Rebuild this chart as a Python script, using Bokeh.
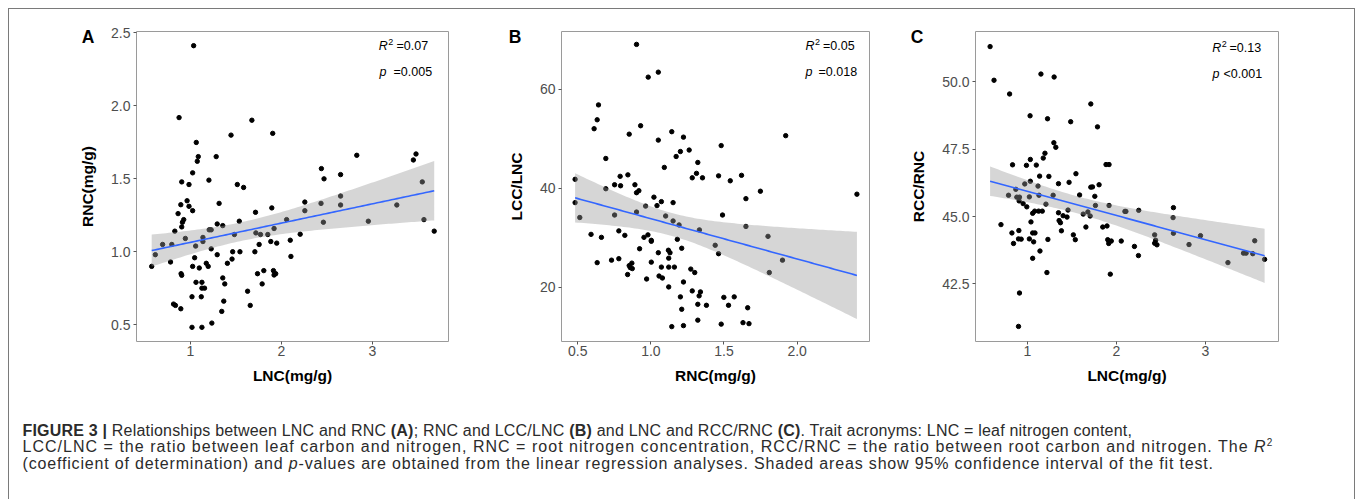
import numpy as np
from bokeh.plotting import figure
from bokeh.models import Label, FixedTicker, NumeralTickFormatter, Range1d, Div, ColumnDataSource, Spacer
from bokeh.layouts import row, column
from bokeh.embed import file_html
from bokeh.resources import INLINE

# ---------------- data ----------------
# Panel A: LNC (x) vs RNC (y)
a_lnc = [1.036, 0.876, 1.676, 1.447, 1.905, 1.065, 1.087, 1.076, 1.284, 2.829, 3.48, 3.451, 2.44, 2.651, 2.469,
         1.025, 0.905, 0.985, 1.204, 1.516, 1.585, 3.549, 0.964, 0.895, 0.985, 1.025, 0.865, 1.316, 1.716, 1.895,
         2.258, 2.436, 2.651, 2.651, 3.269, 2.258, 0.927, 0.913, 0.905, 0.829, 0.945, 0.695, 0.796, 0.615, 0.575,
         0.782, 1.058, 1.138, 1.138, 1.207, 1.229, 1.295, 1.356, 1.229, 1.295, 1.484, 1.538, 1.72, 1.771, 1.851,
         1.92, 2.058, 1.884, 1.949, 2.098, 2.207, 2.462, 2.956, 3.567, 3.68, 2.105, 1.756, 1.709, 1.545, 1.465,
         1.458, 1.407, 1.047, 1.025, 1.098, 1.175, 1.196, 0.898, 0.905, 1.062, 1.127, 1.127, 1.156, 1.018, 1.12,
         0.815, 0.836, 0.895, 1.018, 1.127, 1.236, 1.345, 1.367, 1.356, 1.378, 1.629, 1.658, 1.738, 1.807, 1.789,
         1.913, 1.92, 1.938]
a_rnc = [2.41, 1.918, 1.90, 1.798, 1.81, 1.748, 1.651, 1.619, 1.651, 1.66, 1.669, 1.628, 1.569, 1.528, 1.499,
         1.54, 1.478, 1.46, 1.49, 1.46, 1.44, 1.478, 1.349, 1.322, 1.311, 1.281, 1.261, 1.331, 1.27, 1.30,
         1.34, 1.331, 1.32, 1.381, 1.32, 1.281, 1.22, 1.202, 1.17, 1.141, 1.091, 1.05, 1.05, 0.98, 0.90,
         0.93, 1.039, 1.098, 1.07, 1.15, 1.15, 1.19, 1.179, 1.02, 0.98, 1.118, 1.209, 1.129, 1.118, 1.118,
         1.159, 1.22, 1.07, 1.059, 1.079, 1.12, 1.202, 1.209, 1.22, 1.141, 0.968, 1.05, 1.0, 1.0, 1.0,
         0.95, 0.921, 0.959, 0.90, 0.889, 0.921, 0.90, 0.85, 0.839, 0.791, 0.791, 0.751, 0.751, 0.692, 0.692,
         0.642, 0.633, 0.61, 0.483, 0.483, 0.512, 0.592, 0.662, 0.821, 0.78, 0.73, 0.633, 0.85, 0.871, 0.78,
         0.871, 0.841, 0.85]

# Panel B: RNC (x) vs LCC/LNC (y)
b_rnc = [0.902, 0.982, 1.051, 0.642, 0.633, 0.612, 0.852, 0.93, 1.051, 1.143, 1.223, 1.481, 1.922, 0.692, 1.173,
         1.202, 1.262, 1.092, 1.321, 1.312, 1.283, 1.353, 1.463, 1.543, 1.62, 1.749, 1.65, 2.409, 0.482, 0.482,
         0.514, 0.692, 0.752, 0.79, 0.793, 0.843, 0.891, 0.902, 0.918, 0.964, 0.902, 0.752, 1.021, 1.042, 1.072,
         1.152, 1.101, 1.152, 1.193, 1.332, 1.49, 1.65, 1.801, 1.90, 1.81, 0.591, 0.662, 0.781, 0.822, 0.953,
         0.98, 1.003, 1.003, 0.923, 1.051, 1.12, 1.131, 1.181, 1.211, 1.122, 1.072, 1.122, 1.161, 1.003, 0.971,
         1.056, 1.079, 1.122, 1.223, 1.273, 1.30, 1.44, 1.463, 0.633, 0.731, 0.781, 0.859, 0.87, 0.873, 0.852,
         0.841, 1.202, 1.283, 1.339, 1.33, 1.211, 1.321, 1.38, 1.499, 1.57, 1.531, 1.662, 1.143, 1.223, 1.321,
         1.481, 1.63, 1.671]
b_lcc_lnc = [69.0, 62.4, 63.4, 56.8, 53.8, 52.0, 50.9, 52.6, 49.7, 51.4, 50.3, 48.6, 50.6, 46.0, 46.4,
             47.4, 47.7, 44.2, 45.2, 43.0, 42.1, 42.1, 42.5, 41.5, 42.6, 39.4, 37.9, 38.8, 41.8, 37.1,
             34.1, 39.9, 40.7, 42.4, 40.5, 42.7, 40.7, 39.1, 39.5, 36.4, 35.2, 34.6, 38.2, 36.5, 37.3,
             37.1, 34.4, 33.4, 32.6, 31.6, 34.6, 32.3, 30.3, 25.5, 23.0, 30.7, 30.1, 31.4, 30.5, 30.1,
             30.6, 29.5, 29.3, 27.8, 27.0, 27.5, 27.0, 29.7, 27.9, 25.9, 24.1, 24.1, 24.1, 25.1, 21.7,
             22.3, 21.9, 20.1, 21.1, 23.7, 23.0, 28.5, 26.8, 25.0, 25.5, 25.8, 24.0, 24.9, 23.8, 24.4,
             22.6, 18.1, 19.3, 19.1, 18.3, 15.6, 16.6, 16.4, 18.0, 18.1, 16.4, 15.9, 12.1, 12.3, 13.4,
             12.6, 12.9, 12.7]

# Panel C: LNC (x) vs RCC/RNC (y)
c_lnc = [0.581, 0.625, 0.80, 1.152, 1.30, 1.712, 1.03, 1.226, 1.486, 1.787, 1.297, 1.319, 1.197, 1.178, 1.033,
         0.833, 0.989, 1.10, 1.883, 1.917, 1.137, 1.241, 1.545, 1.349, 1.468, 0.97, 1.033, 1.805, 1.712, 1.731,
         0.87, 1.119, 0.788, 0.881, 0.911, 1.022, 1.13, 1.289, 1.586, 1.757, 0.907, 0.952, 0.993, 1.208, 1.764,
         1.917, 1.059, 1.082, 1.126, 1.167, 1.456, 1.349, 1.401, 1.445, 1.627, 1.679, 1.705, 2.095, 2.106, 2.25,
         2.64, 2.636, 1.04, 1.356, 1.371, 0.703, 1.657, 1.846, 1.894, 0.826, 0.904, 1.059, 1.085, 1.516, 1.382,
         1.538, 0.90, 0.93, 1.022, 1.23, 1.07, 0.844, 1.902, 1.913, 1.942, 2.054, 2.202, 2.247, 2.429, 2.44,
         2.429, 2.455, 2.64, 2.815, 2.944, 1.141, 1.059, 1.219, 1.931, 0.911, 0.90, 3.252, 3.427, 3.456, 3.531,
         3.553, 3.664]
c_rcc_rnc = [51.31, 50.06, 49.55, 50.29, 50.18, 49.18, 48.74, 48.63, 48.52, 48.33, 47.74, 47.57, 47.35, 47.17, 47.12,
             46.92, 46.90, 46.91, 46.93, 46.93, 46.50, 46.49, 46.59, 46.22, 46.27, 46.21, 46.31, 46.18, 46.09, 46.10,
             46.01, 46.13, 45.79, 45.72, 45.72, 45.73, 45.79, 45.79, 45.80, 45.75, 45.58, 45.48, 45.36, 45.46, 45.41,
             45.41, 45.12, 45.20, 45.20, 45.20, 45.24, 45.14, 45.03, 44.98, 45.09, 45.17, 45.02, 45.19, 45.19, 45.23,
             45.33, 44.96, 44.80, 44.85, 44.77, 44.70, 44.61, 44.61, 44.65, 44.39, 44.48, 44.39, 44.39, 44.32, 44.47,
             44.14, 44.17, 44.16, 44.17, 44.15, 44.06, 44.00, 44.14, 44.00, 44.09, 44.09, 43.89, 43.55, 44.32, 44.12,
             44.01, 43.95, 44.38, 43.96, 44.29, 43.72, 43.45, 42.92, 42.86, 42.16, 40.92, 43.29, 43.64, 43.64, 43.62,
             44.10, 43.41]

a_stats = ("0.07", "=0.005")
b_stats = ("0.05", "=0.018")
c_stats = ("0.13", "<0.001")
panel_letters = ["A", "B", "C"]

a_xticks = [1, 2, 3]
a_yticks = [0.5, 1.0, 1.5, 2.0, 2.5]
b_xticks = [0.5, 1.0, 1.5, 2.0, 2.5]
b_yticks = [20, 40, 60]
c_xticks = [1, 2, 3]
c_yticks = [42.5, 45.0, 47.5, 50.0]

T_CRIT = 1.982  # two-sided 95% t quantile, df ~ 108

FONT = "Liberation Sans"


def fit_band(x, y, n_grid=100):
    x = np.asarray(x, float)
    y = np.asarray(y, float)
    n = len(x)
    b, a = np.polyfit(x, y, 1)
    resid = y - (a + b * x)
    s = np.sqrt(np.sum(resid ** 2) / (n - 2))
    xbar = x.mean()
    sxx = np.sum((x - xbar) ** 2)
    gx = np.linspace(x.min(), x.max(), n_grid)
    gy = a + b * gx
    se = s * np.sqrt(1.0 / n + (gx - xbar) ** 2 / sxx)
    return gx, gy, gy - T_CRIT * se, gy + T_CRIT * se


def make_panel(x, y, xr, yr, xticks, yticks, xfmt, yfmt, xlabel, ylabel,
               bl, br, fw, stats, ann):
    p = figure(frame_width=fw, frame_height=310, min_border_left=bl, min_border_right=br,
               min_border_top=20, min_border_bottom=59,
               x_range=Range1d(*xr), y_range=Range1d(*yr),
               output_backend="svg", toolbar_location=None)
    p.xgrid.visible = False
    p.ygrid.visible = False
    p.background_fill_color = "white"
    p.border_fill_color = "white"
    p.outline_line_color = "#9a9a9a"
    p.outline_line_width = 1

    for ax, ticks, fmt in ((p.xaxis, xticks, xfmt), (p.yaxis, yticks, yfmt)):
        ax.ticker = FixedTicker(ticks=ticks)
        ax.formatter = NumeralTickFormatter(format=fmt)
        ax.axis_line_color = None
        ax.major_tick_line_color = "#555555"
        ax.major_tick_in = 0
        ax.major_tick_out = 3
        ax.minor_tick_line_color = None
        ax.major_label_text_font = FONT
        ax.major_label_text_font_size = "14px"
        ax.major_label_text_color = "#4d4d4d"
        ax.axis_label_text_font = FONT
        ax.axis_label_text_font_size = "15.5px"
        ax.axis_label_text_font_style = "bold"
        ax.axis_label_text_color = "black"
    p.xaxis.axis_label = xlabel
    p.yaxis.axis_label = ylabel
    p.xaxis.major_label_standoff = 1
    p.yaxis.major_label_standoff = 3
    p.xaxis.axis_label_standoff = 8
    p.yaxis.axis_label_standoff = 12

    src = ColumnDataSource(dict(x=x, y=y))
    p.scatter("x", "y", source=src, size=4.4, color="black")

    gx, gy, lo, hi = fit_band(x, y)
    p.varea(x=gx, y1=lo, y2=hi, fill_color="#999999", fill_alpha=0.4)
    p.line(gx, gy, line_color="#3366FF", line_width=1.6)

    rx, ry, r2x, eqx, px, py, peqx, sup_dy = ann
    common = dict(x_units="screen", y_units="screen", text_font=FONT, text_baseline="middle",
                  text_align="left", text_color="black")
    p.add_layout(Label(x=rx, y=ry, text="R", text_font_size="12.5px", text_font_style="italic", **common))
    p.add_layout(Label(x=r2x, y=ry + sup_dy, text="2", text_font_size="9px", **common))
    p.add_layout(Label(x=eqx, y=ry, text="=" + stats[0], text_font_size="12.5px", **common))
    p.add_layout(Label(x=px, y=py, text="p", text_font_size="12.5px", text_font_style="italic", **common))
    p.add_layout(Label(x=peqx, y=py, text=stats[1], text_font_size="12.5px", **common))
    return p


pa = make_panel(a_lnc, a_rnc, (0.408, 3.837), (0.386, 2.507), a_xticks, a_yticks, "0", "0.0",
                "LNC(mg/g)", "RNC(mg/g)", 127, 32, 312, a_stats,
                (242.3, 295.3, 251.8, 260.0, 243.0, 269.3, 257.0, 4))
pb = make_panel(b_rnc, b_lcc_lnc, (0.389, 2.495), (9.1, 71.6), b_xticks, b_yticks, "0.0", "0",
                "RNC(mg/g)", "LCC/LNC", 81, 31, 308, b_stats,
                (244.0, 295.3, 253.5, 261.5, 244.0, 269.3, 257.0, 4))
pc = make_panel(c_lnc, c_rcc_rnc, (0.417, 3.82), (40.36, 51.87), c_xticks, c_yticks, "0", "0.0",
                "LNC(mg/g)", "RCC/RNC", 75, 76, 303, c_stats,
                (236.7, 293.3, 246.2, 254.0, 237.0, 267.7, 248.0, 4))

# overlay (panel letters + outer frame) positioned relative to the caption block
letter_boxes = "".join(
    '<div style="position:absolute; left:%dpx; top:-373px; width:40px; text-align:center; '
    'font-family:\'Liberation Sans\', sans-serif; font-weight:bold; font-size:17.5px; line-height:20px; '
    'color:#000;">%s</div>' % (left, letter)
    for left, letter in zip([59, 486, 888], panel_letters)
)
outer_frame = ('<div style="position:absolute; left:-1px; top:-392px; width:1347px; height:491px; '
               'box-sizing:border-box; border:1px solid #7a7a7a; border-bottom:none; '
               'pointer-events:none;"></div>')

line_style = "display:block; white-space:nowrap; height:16.5px;"
caption_html = (
    '<div style="position:relative; width:1345px;">' + outer_frame + letter_boxes +
    '<div style="font-family:\'Liberation Sans\', sans-serif; font-size:16px; '
    'line-height:16.5px; color:#2b2b2b; padding-top:22.5px; padding-left:13.5px;">'
    '<span style="' + line_style + ' letter-spacing:0.2px;">'
    '<b>FIGURE 3 |</b> Relationships between LNC and RNC <b>(A)</b>; RNC and LCC/LNC <b>(B)</b> and LNC and '
    'RCC/RNC <b>(C)</b>. Trait acronyms: LNC = leaf nitrogen content,</span>'
    '<span style="' + line_style + ' letter-spacing:1.02px;">'
    'LCC/LNC = the ratio between leaf carbon and nitrogen, RNC = root nitrogen concentration, RCC/RNC = the '
    'ratio between root carbon and nitrogen. The <i>R</i><sup style="font-size:10px;line-height:0;">2</sup></span>'
    '<span style="' + line_style + ' letter-spacing:0.83px;">'
    '(coefficient of determination) and <i>p</i>-values are obtained from the linear regression analyses. '
    'Shaded areas show 95% confidence interval of the fit test.</span>'
    '</div></div>'
)
caption = Div(text=caption_html, width=1345, height=98, margin=0)

layout = column(Spacer(height=11),
                row(Spacer(width=9), pa, pb, pc),
                row(Spacer(width=9), caption))

open("out.html", "w").write(file_html(layout, INLINE))
